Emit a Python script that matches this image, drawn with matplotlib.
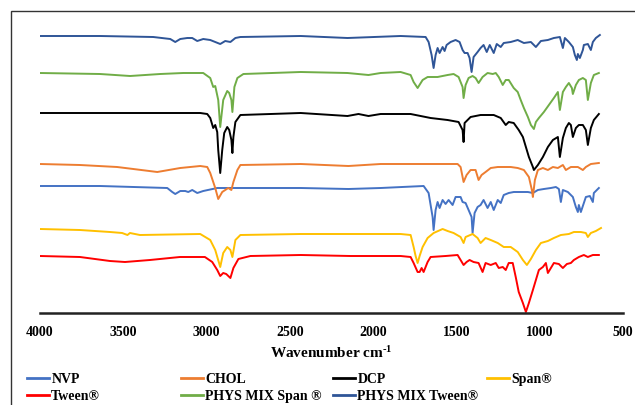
import matplotlib
matplotlib.use("Agg")
import matplotlib.pyplot as plt
from matplotlib.patches import Rectangle

plt.rcParams['font.family'] = ['Liberation Serif', 'DejaVu Serif']
plt.rcParams['font.weight'] = 'bold'
plt.rcParams['mathtext.fontset'] = 'custom'
plt.rcParams['mathtext.rm'] = 'Liberation Serif:bold'
plt.rcParams['mathtext.bf'] = 'Liberation Serif:bold'
plt.rcParams['mathtext.it'] = 'Liberation Serif:bold'

# ---- data (wavenumber cm-1, offset transmittance in arbitrary units) ----
tween_w = [4000, 3760, 3580, 3490, 3340, 3160, 3010, 2966, 2936, 2918, 2900, 2882, 2857, 2839, 2809, 2737,
           2435, 2136, 1835, 1775, 1757, 1733, 1721, 1709, 1697, 1673, 1655, 1565, 1493, 1475, 1457, 1439,
           1421, 1397, 1367, 1343, 1325, 1294, 1264, 1246, 1222, 1204, 1186, 1162, 1144, 1126, 1101, 1083,
           1065, 1041, 1023, 1005, 981, 963, 951, 933, 915, 885, 861, 837, 813, 795, 765, 735, 711, 681, 645]
tween_t = [57, 56, 52, 51, 53, 56, 56, 51, 43, 37, 40, 39, 35, 45, 54, 57,
           58, 57, 57, 56, 50, 41, 41, 45, 41, 51, 56, 57, 58, 53, 48, 51,
           53, 51, 50, 41, 50, 48, 50, 45, 46, 43, 50, 50, 36, 21, 10, 1,
           10, 23, 33, 43, 46, 50, 40, 45, 50, 49, 45, 49, 50, 53, 56, 58, 56, 58, 58]

span_w = [4000, 3760, 3580, 3507, 3475, 3460, 3400, 3038, 2978, 2948, 2918, 2900, 2876, 2857, 2845, 2827,
          2797, 2435, 1835, 1775, 1757, 1745, 1733, 1721, 1703, 1673, 1637, 1583, 1553, 1517, 1475, 1457,
          1445, 1403, 1373, 1355, 1325, 1294, 1252, 1216, 1174, 1132, 1101, 1077, 1053, 1023, 993, 951,
          915, 873, 825, 795, 753, 723, 711, 693, 663, 632]
span_t = [84, 83, 81, 80, 78, 80, 78, 79, 73, 63, 46, 60, 66, 63, 56, 73,
          78, 79, 79, 78, 66, 57, 50, 57, 66, 75, 80, 84, 82, 80, 76, 70,
          76, 79, 75, 70, 75, 73, 70, 66, 66, 61, 53, 48, 54, 63, 70, 72,
          75, 78, 79, 81, 81, 80, 76, 80, 82, 85]

nvp_w = [4000, 3640, 3236, 3206, 3188, 3158, 3128, 3110, 3086, 3056, 3020, 2936, 2839, 2435, 2148, 1955,
         1697, 1667, 1643, 1637, 1625, 1613, 1601, 1583, 1565, 1547, 1523, 1505, 1475, 1463, 1445, 1427,
         1409, 1403, 1391, 1373, 1355, 1337, 1313, 1294, 1276, 1252, 1234, 1216, 1186, 1156, 1114, 1071,
         1041, 1011, 975, 933, 903, 885, 873, 861, 831, 801, 783, 771, 765, 753, 735, 723, 699, 681, 675,
         657, 645]
nvp_t = [127, 127, 125, 121, 119, 122, 122, 121, 123, 120, 122, 125, 125, 125, 124, 125,
         127, 120, 96, 83, 103, 111, 105, 113, 109, 113, 108, 116, 116, 111, 110, 103,
         96, 80, 100, 106, 108, 113, 105, 111, 103, 113, 110, 118, 120, 121, 121, 121,
         120, 123, 124, 125, 126, 124, 111, 123, 121, 116, 106, 101, 108, 101, 110, 116, 117, 111, 120,
         123, 125]

chol_w = [4000, 3760, 3537, 3440, 3296, 3158, 3038, 2996, 2978, 2948, 2930, 2906, 2888, 2870, 2851, 2839,
          2815, 2797, 2435, 2148, 1955, 1655, 1493, 1475, 1463, 1457, 1439, 1415, 1385, 1367, 1349, 1325,
          1294, 1252, 1216, 1174, 1132, 1095, 1065, 1047, 1041, 1029, 1011, 981, 951, 921, 891, 861, 843,
          813, 771, 741, 723, 693, 645]
chol_t = [149, 148, 146, 144, 141, 145, 147, 146, 140, 125, 114, 121, 123, 125, 123, 131,
          143, 148, 149, 147, 149, 149, 149, 146, 136, 131, 138, 143, 143, 133, 138, 141,
          145, 146, 146, 146, 145, 143, 136, 123, 116, 133, 143, 145, 143, 146, 145, 148, 143,
          146, 146, 143, 146, 149, 150]

dcp_w = [4000, 3640, 3038, 2996, 2978, 2960, 2948, 2936, 2930, 2918, 2906, 2894, 2876, 2864, 2851, 2845,
         2839, 2827, 2797, 2435, 2154, 2088, 2028, 1955, 1775, 1655, 1553, 1487, 1463, 1457, 1451, 1415,
         1355, 1276, 1234, 1204, 1186, 1156, 1126, 1101, 1083, 1065, 1041, 1035, 1011, 981, 951, 921, 891,
         879, 861, 843, 825, 813, 801, 783, 765, 741, 723, 711, 693, 675, 645]
dcp_t = [200, 200, 200, 199, 195, 185, 188, 181, 163, 140, 163, 180, 186, 183, 173, 160,
         176, 191, 198, 200, 197, 199, 197, 199, 199, 195, 193, 191, 183, 171, 190, 196,
         198, 198, 195, 188, 191, 190, 183, 176, 166, 156, 146, 143, 148, 156, 166, 173, 176,
         156, 175, 185, 190, 188, 176, 185, 188, 188, 183, 168, 185, 193, 199]

mixspan_w = [4000, 3640, 3459, 3278, 3140, 3020, 2978, 2960, 2948, 2930, 2918, 2900, 2876, 2864, 2851, 2845,
             2833, 2815, 2779, 2435, 2154, 2028, 1955, 1835, 1775, 1757, 1733, 1703, 1673, 1613, 1553, 1517,
             1487, 1463, 1457, 1445, 1427, 1403, 1385, 1367, 1343, 1313, 1282, 1264, 1246, 1222, 1204, 1186,
             1156, 1132, 1114, 1095, 1071, 1053, 1035, 1023, 1005, 975, 945, 915, 891, 879, 861, 843, 825,
             807, 801, 783, 765, 741, 723, 711, 693, 675, 645]
mixspan_t = [240, 239, 237, 239, 240, 240, 235, 226, 227, 213, 186, 213, 222, 220, 213, 201,
             226, 235, 239, 241, 240, 238, 240, 241, 238, 231, 225, 233, 236, 236, 238, 239,
             236, 226, 215, 228, 235, 237, 235, 230, 236, 240, 239, 240, 236, 228, 233, 233,
             225, 221, 213, 205, 196, 188, 184, 191, 195, 201, 208, 215, 221, 203, 221, 226, 230,
             225, 219, 228, 233, 235, 233, 213, 230, 238, 240]

mixtween_w = [4000, 3640, 3320, 3218, 3188, 3158, 3116, 3086, 3056, 3020, 2978, 2918, 2888, 2857, 2827, 2797,
              2435, 2154, 1835, 1685, 1667, 1649, 1637, 1625, 1613, 1601, 1583, 1571, 1559, 1535, 1505, 1481,
              1463, 1451, 1433, 1421, 1409, 1397, 1373, 1355, 1337, 1318, 1300, 1276, 1258, 1234, 1216, 1174,
              1132, 1095, 1053, 1023, 993, 951, 915, 879, 861, 849, 825, 801, 789, 777, 771, 759, 741, 735,
              711, 693, 681, 663, 639]
mixtween_t = [277, 277, 276, 274, 271, 274, 275, 275, 272, 274, 273, 269, 272, 271, 275, 276,
              277, 275, 277, 276, 271, 258, 245, 258, 265, 260, 266, 262, 268, 271, 273, 271,
              263, 260, 260, 255, 241, 256, 261, 265, 268, 261, 268, 260, 269, 266, 270, 271,
              273, 270, 271, 266, 272, 273, 275, 276, 265, 275, 271, 266, 258, 253, 259, 255, 263, 268,
              269, 263, 271, 275, 278]

labels = ['NVP', 'CHOL', 'DCP', 'Span®', 'Tween®', 'PHYS MIX Span ®', 'PHYS MIX Tween®']
colors = ['#4472C4', '#ED7D31', '#000000', '#FFC000', '#FF0000', '#70AD47', '#2F5597']
series_w = [nvp_w, chol_w, dcp_w, span_w, tween_w, mixspan_w, mixtween_w]
series_t = [nvp_t, chol_t, dcp_t, span_t, tween_t, mixspan_t, mixtween_t]
x_ticks = [4000, 3500, 3000, 2500, 2000, 1500, 1000, 500]

# ---- figure ----
W, H = 635, 405
fig = plt.figure(figsize=(W / 100, H / 100), dpi=100)
fig.patch.set_facecolor('white')
fig.patches.append(Rectangle((11 / W, -0.2), 1.2, 1.2 - 11 / H, transform=fig.transFigure,
                             fill=False, edgecolor='#333333', linewidth=1.0))

ax = fig.add_axes([40 / W, 1 - 313 / H, 583 / W, 293 / H])
ax.patch.set_alpha(0)
handles = []
for wv, tv, lab, c in zip(series_w, series_t, labels, colors):
    h, = ax.plot(wv, tv, color=c, lw=1.4, label=lab, solid_joinstyle='round')
    handles.append(h)

ax.set_xlim(4000, 500)
ax.set_ylim(0, 293)
ax.set_xticks(x_ticks)
ax.set_xticklabels([str(t) for t in x_ticks], fontsize=10, fontweight='bold')
ax.set_yticks([])
for s in ['top', 'right', 'left']:
    ax.spines[s].set_visible(False)
ax.spines['bottom'].set_linewidth(1.8)
ax.spines['bottom'].set_color('#222222')
ax.tick_params(axis='x', length=0, pad=9.5)
ax.set_xlabel(r'Wavenumber cm$^{\text{-1}}$', fontsize=11, fontweight='bold')
ax.xaxis.set_label_coords(0.5, -0.11)

# legend: 4 equal-width columns
cols = [[0, 4], [1, 5], [2, 6], [3]]
col_x = [27, 181, 333, 487]
for idxs, cx in zip(cols, col_x):
    lg = fig.legend([handles[i] for i in idxs], [labels[i] for i in idxs],
                    loc='upper left', bbox_to_anchor=(cx / W, 1 - 373 / H),
                    frameon=False, fontsize=10, handlelength=1.6, handletextpad=0.15,
                    borderpad=0, borderaxespad=0, labelspacing=0.3)
    for line in lg.get_lines():
        line.set_linewidth(2)

fig.savefig('out.png', dpi=100, facecolor='white')
